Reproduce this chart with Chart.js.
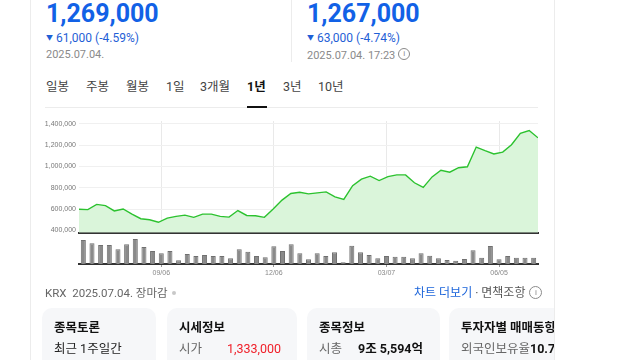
<!DOCTYPE html>
<html lang="ko">
<head>
<meta charset="utf-8">
<script src="https://cdn.jsdelivr.net/npm/chart.js@4.4.1/dist/chart.umd.min.js"></script>
<style>
body { margin:0; width:640px; height:360px; position:relative; overflow:hidden; background:#fff;
  font-family: Roboto, 'Noto Sans CJK KR', sans-serif; color:#333; }
.a { position:absolute; white-space:nowrap; }
.vline { position:absolute; top:0; width:1px; height:360px; background:#ececec; z-index:5; }
.mask { position:absolute; left:555px; top:0; width:85px; height:360px; background:#fff; z-index:4; }
.big { font-weight:700; font-size:25px; line-height:26px; color:#1261e6; }
.chg { font-size:12px; line-height:14px; color:#1f5fd6; }
.chg .tri { font-size:7px; vertical-align:2px; margin-right:3px; }
.date { font-size:11px; line-height:13px; color:#8a8a8a; }
.info { display:inline-block; box-sizing:border-box; width:12px; height:12px; border:1px solid #8a8a8a; border-radius:50%;
  font-size:8px; line-height:10px; text-align:center; color:#8a8a8a; vertical-align:3px; margin-left:3px; }
.tab { font-size:12.5px; line-height:16px; color:#444; top:79px; }
.tab.on { font-weight:700; color:#111; }
.card { position:absolute; top:308px; height:70px; background:#f6f7f9; border-radius:10px; }
.ttl { font-size:12.5px; line-height:16px; font-weight:700; color:#111; top:320px; }
.row { font-size:12.5px; line-height:16px; color:#222; top:341px; }
.lab { color:#666; }
canvas { position:absolute; }
</style>
</head>
<body>
<div class="vline" style="left:30px"></div>
<div class="vline" style="left:554px"></div>
<div class="vline" style="left:291px;height:62px;z-index:1"></div>
<div class="mask"></div>

<div class="a big" style="left:46px;top:1px">1,269,000</div>
<div class="a chg" style="left:46px;top:31px"><span class="tri">▼</span>61,000 (-4.59%)</div>
<div class="a date" style="left:46px;top:48px">2025.07.04.</div>

<div class="a big" style="left:307px;top:1px">1,267,000</div>
<div class="a chg" style="left:307px;top:31px"><span class="tri">▼</span>63,000 (-4.74%)</div>
<div class="a date" style="left:307px;top:48px">2025.07.04. 17:23<span class="info">i</span></div>

<div class="a tab" style="left:46px">일봉</div>
<div class="a tab" style="left:86px">주봉</div>
<div class="a tab" style="left:126px">월봉</div>
<div class="a tab" style="left:166px">1일</div>
<div class="a tab" style="left:200px">3개월</div>
<div class="a tab on" style="left:247px">1년</div>
<div class="a tab" style="left:283px">3년</div>
<div class="a tab" style="left:318px">10년</div>
<div class="a" style="left:45px;top:107px;width:493px;height:1px;background:#ececec"></div>
<div class="a" style="left:247px;top:106px;width:20px;height:2px;background:#111"></div>

<canvas id="priceChart" width="515" height="130" style="left:30px;top:110px"></canvas>
<canvas id="volChart" width="515" height="46" style="left:30px;top:236px"></canvas>

<div class="a" style="left:45px;top:285px;font-size:11.5px;line-height:16px;color:#666">KRX&nbsp; 2025.07.04. 장마감
  <span style="display:inline-block;width:4px;height:4px;border-radius:50%;background:#c8c8c8;vertical-align:2px;margin-left:2px"></span></div>
<div class="a" style="left:414px;top:285px;font-size:12px;line-height:16px;color:#555">
  <span style="color:#1b64da">차트 더보기</span> · 면책조항<span class="info" style="width:13px;height:13px;line-height:11px;margin-left:4px;vertical-align:2px">i</span></div>

<div class="card" style="left:42px;width:114px"></div>
<div class="card" style="left:167px;width:130px"></div>
<div class="card" style="left:307px;width:133px"></div>
<div class="card" style="left:449px;width:150px"></div>

<div class="a ttl" style="left:54px">종목토론</div>
<div class="a ttl" style="left:179px">시세정보</div>
<div class="a ttl" style="left:319px">종목정보</div>
<div class="a ttl" style="left:461px">투자자별 매매동향</div>
<div class="a row" style="left:54px">최근 1주일간</div>
<div class="a row lab" style="left:179px">시가</div>
<div class="a row" style="left:227px;color:#f0202a">1,333,000</div>
<div class="a row lab" style="left:319px">시총</div>
<div class="a row" style="left:358px;font-weight:700;color:#111">9조 5,594억</div>
<div class="a row lab" style="left:461px">외국인보유율<b style="color:#111">10.76</b></div>

<script>
// weekly closes, 2024.07.05 ~ 2025.07.04
var weeks = ['07/05','07/12','07/19','07/26','08/02','08/09','08/16','08/23','08/30',
  '09/06','09/13','09/20','09/27','10/04','10/11','10/18','10/25','11/01','11/08','11/15',
  '11/22','11/29','12/06','12/13','12/20','12/27','01/03','01/10','01/17','01/24','01/31',
  '02/07','02/14','02/21','02/28','03/07','03/14','03/21','03/28','04/04','04/11','04/18',
  '04/25','05/02','05/09','05/16','05/23','05/30','06/05','06/13','06/20','06/27','07/04'];

var closes = [598000,595000,644000,632000,582000,601000,552000,509000,500000,
  476000,515000,531000,543000,522000,552000,552000,531000,524000,586000,540000,
  537000,522000,601000,684000,746000,758000,743000,752000,761000,715000,690000,
  819000,881000,909000,868000,904000,921000,921000,847000,804000,902000,964000,
  946000,988000,997000,1182000,1148000,1117000,1135000,1204000,1311000,1338000,1269000];

// volume, thousand shares (approx.)
var volumes = [480,414,380,380,294,394,500,340,260,214,260,74,200,160,180,160,160,114,
  294,246,160,134,354,260,394,214,94,214,160,234,34,366,234,180,114,160,146,146,114,
  214,166,114,80,66,100,274,126,360,94,160,126,126,126];

var tickLabels = ['09/06','12/06','03/07','06/05'];
var priceTicks = [400000,600000,800000,1000000,1200000,1400000];

var n = weeks.length;
var tickIdx = tickLabels.map(function(t){ return weeks.indexOf(t); });
var axisFont = { family: "'Liberation Sans', Arial, sans-serif", size: 7 };

var priceChart = new Chart(document.getElementById('priceChart'), {
  type: 'line',
  data: {
    datasets: [{
      data: closes.map(function(v, i){ return { x: i, y: v }; }),
      borderColor: '#2cc22f',
      borderWidth: 1.4,
      backgroundColor: '#daf5da',
      fill: 'start',
      pointRadius: 0,
      tension: 0
    }]
  },
  options: {
    responsive: false,
    animation: false,
    layout: { padding: { left: 0, right: 7, top: 11, bottom: 5 } },
    plugins: { legend: { display: false }, tooltip: { enabled: false } },
    scales: {
      x: {
        type: 'linear', min: 0, max: n - 1,
        // grid lines sit on the volume bar centres below
        afterBuildTicks: function(scale){
          scale.ticks = tickIdx.map(function(k){ return { value: (k + 0.5) * (n - 1) / n }; });
        },
        afterFit: function(scale){ scale.height = 0; },
        ticks: { display: false },
        grid: { color: '#e9e9e9', drawTicks: false },
        border: { display: true, color: '#333', width: 2 }
      },
      y: {
        min: 377000, max: 1427000,
        afterBuildTicks: function(scale){
          scale.ticks = priceTicks.map(function(v){ return { value: v }; });
        },
        afterFit: function(scale){ scale.width = 49; },
        ticks: {
          padding: 3, color: '#777', font: axisFont,
          callback: function(v){ return v.toLocaleString('en-US'); }
        },
        grid: { color: '#f0f0f0', drawTicks: false },
        border: { display: false }
      }
    }
  }
});

var volChart = new Chart(document.getElementById('volChart'), {
  type: 'bar',
  data: {
    labels: weeks,
    datasets: [{
      data: volumes,
      backgroundColor: '#8a8a8a',
      borderColor: '#707070',
      borderWidth: 1,
      barPercentage: 0.58,
      categoryPercentage: 1
    }]
  },
  options: {
    responsive: false,
    animation: false,
    layout: { padding: { left: 49, right: 7, top: 2, bottom: 0 } },
    plugins: { legend: { display: false }, tooltip: { enabled: false } },
    scales: {
      x: {
        afterBuildTicks: function(scale){
          scale.ticks = scale.ticks.filter(function(t){ return tickIdx.indexOf(t.value) >= 0; });
        },
        afterFit: function(scale){ scale.height = 18; },
        ticks: { autoSkip: false, maxRotation: 0, padding: 2, color: '#888', font: axisFont },
        grid: { offset: false, drawOnChartArea: false, tickLength: 3, color: '#999' },
        border: { display: true, color: '#333', width: 2 }
      },
      y: { display: false, min: 0, max: 520 }
    }
  }
});
</script>
</body>
</html>
